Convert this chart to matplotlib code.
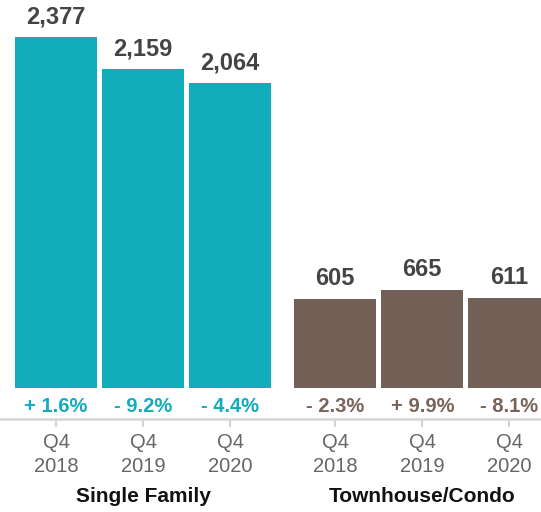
import matplotlib.pyplot as plt

plt.rcParams['font.family'] = ['Liberation Sans', 'DejaVu Sans']

# data
groups = ['Single Family', 'Townhouse/Condo']
quarters = ['Q4\n2018', 'Q4\n2019', 'Q4\n2020']
single_family = [2377, 2159, 2064]
townhouse = [605, 665, 611]
sf_change = ['+ 1.6%', '- 9.2%', '- 4.4%']
th_change = ['- 2.3%', '+ 9.9%', '- 8.1%']

teal = '#12acbd'
brown = '#736157'

fig = plt.figure(figsize=(5.41, 5.12), dpi=100)
# axes bottom sits on the grey axis line
ax = fig.add_axes([0, 93 / 512, 1, 419 / 512])

gap = 0.21
x_sf = [0, 1, 2]
x_th = [3 + gap, 4 + gap, 5 + gap]
width = 0.943

ax.bar(x_sf, single_family, width=width, color=teal)
ax.bar(x_th, townhouse, width=width, color=brown)

ax.set_xlim(-0.644, 5.575)
ax.set_ylim(-210, 2627)

for xs, vals, changes, col in [(x_sf, single_family, sf_change, teal),
                               (x_th, townhouse, th_change, '#7a6458')]:
    for x, v, c in zip(xs, vals, changes):
        ax.annotate(f'{v:,}', (x, v), xytext=(0, 6), textcoords='offset points',
                    ha='center', va='bottom', fontsize=17, fontweight='bold',
                    color='#444444')
        ax.text(x, -122, c, ha='center', va='center', fontsize=14.5,
                fontweight='bold', color=col)

ax.set_xticks(x_sf + x_th)
ax.set_xticklabels(quarters * 2, fontsize=14.5, color='#666666', linespacing=1.35)
ax.tick_params(axis='x', length=6, width=1.5, color='#d5d5d5', pad=4)
ax.set_yticks([])
for s in ['top', 'left', 'right']:
    ax.spines[s].set_visible(False)
ax.spines['bottom'].set_color('#d5d5d5')
ax.spines['bottom'].set_linewidth(1.8)

# group names under the tick labels
trans = ax.get_xaxis_transform()
for x, name in zip([x_sf[1], x_th[1]], groups):
    ax.text(x, -78 / 419, name, transform=trans, ha='center', va='center',
            fontsize=15, fontweight='bold', color='#111111')

fig.savefig('out.png', dpi=100)
